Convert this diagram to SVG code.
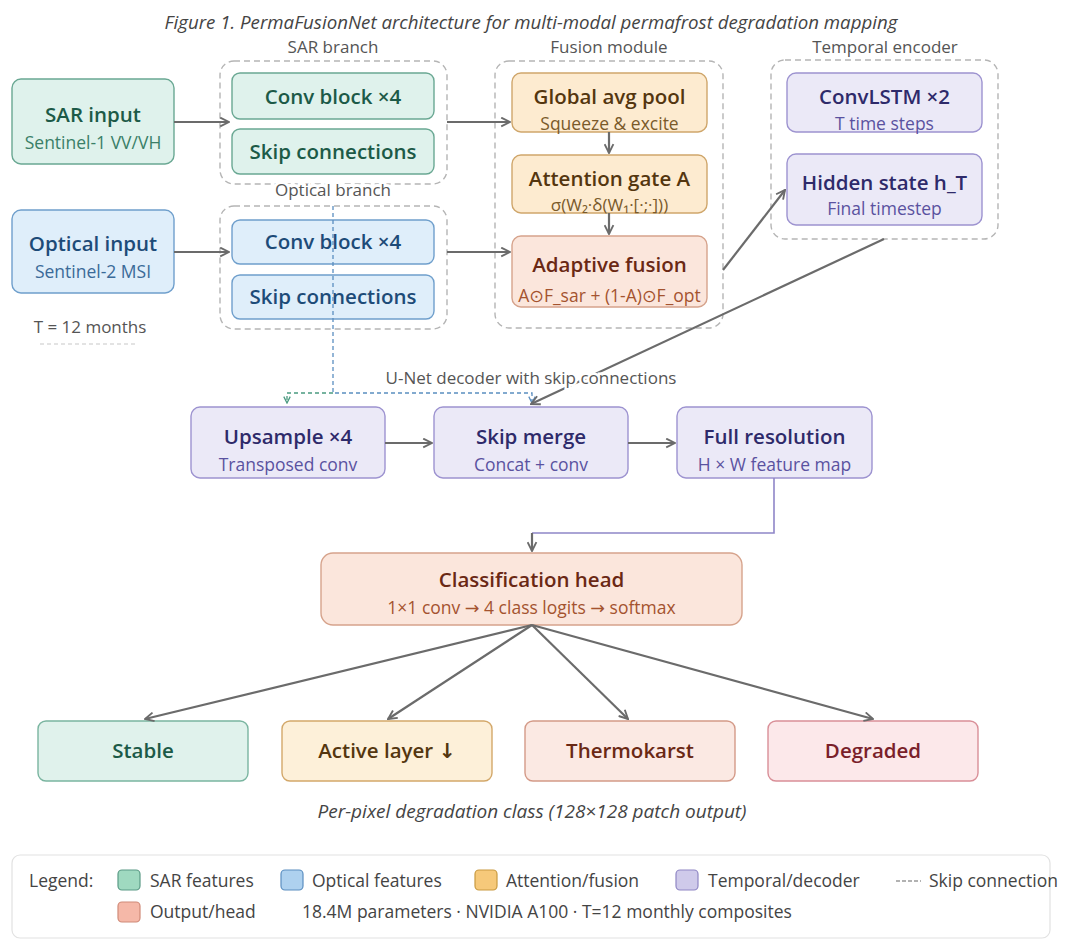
<svg xmlns="http://www.w3.org/2000/svg" width="1076" height="941" viewBox="0 0 1076 941">
<defs>
<style>
text{font-family:"Open Sans","Noto Sans","DejaVu Sans",sans-serif;text-anchor:middle}
.cap{font-size:17px;fill:#555}
.title{font-size:18.7px;font-style:italic;fill:#444}
.t{font-size:20.5px;font-weight:600}
.s{font-size:17.5px}
.cont{fill:none;stroke:#b5b5b5;stroke-width:1.4;stroke-dasharray:6 4}
.edge{fill:none;stroke:#6b6b6b;stroke-width:2.2}
.sar rect{fill:#dff2ec;stroke:#6aa893;stroke-width:1.4}
.sar .t{fill:#1c5a47}.sar .s{fill:#3a7f68}
.opt rect{fill:#dfeefa;stroke:#6f9fcc;stroke-width:1.4}
.opt .t{fill:#1d4b78}.opt .s{fill:#3a6a98}
.fus rect{fill:#fdebd0;stroke:#cfa66b;stroke-width:1.4}
.fus .t{fill:#54360f}.fus .s{fill:#7a5a2a}
.ada rect{fill:#fbe6dc;stroke:#d6a38c;stroke-width:1.4}
.ada .t{fill:#6a2814}.ada .s{fill:#a4532f}
.tmp rect{fill:#ebe9f7;stroke:#9d93d0;stroke-width:1.4}
.tmp .t{fill:#2e2a6a}.tmp .s{fill:#5a52a0}
.out1 rect{fill:#e0f2ec;stroke:#7ab5a0;stroke-width:1.4}.out1 .t{fill:#1c5a47}
.out2 rect{fill:#fdf0d9;stroke:#d3a86a;stroke-width:1.4}.out2 .t{fill:#54360f}
.out3 rect{fill:#fbe9e3;stroke:#d49a88;stroke-width:1.4}.out3 .t{fill:#6a2814}
.out4 rect{fill:#fce8ea;stroke:#d98f98;stroke-width:1.4}.out4 .t{fill:#7a1f2a}
.leg{font-size:17.5px;fill:#444;text-anchor:start}
</style>
<marker id="ah" viewBox="0 0 10 10" refX="9" refY="5" markerWidth="11" markerHeight="11" markerUnits="userSpaceOnUse" orient="auto">
<path d="M1,1 L9,5 L1,9" fill="none" stroke="#6b6b6b" stroke-width="1.7"/>
</marker>
<marker id="ahG" viewBox="0 0 10 10" refX="9" refY="5" markerWidth="8" markerHeight="8" markerUnits="userSpaceOnUse" orient="auto">
<path d="M1,1 L9,5 L1,9" fill="none" stroke="#4a9a80" stroke-width="1.6"/>
</marker>
<marker id="ahB" viewBox="0 0 10 10" refX="9" refY="5" markerWidth="8" markerHeight="8" markerUnits="userSpaceOnUse" orient="auto">
<path d="M1,1 L9,5 L1,9" fill="none" stroke="#5a8ec0" stroke-width="1.6"/>
</marker>
</defs>
<rect width="1076" height="941" fill="#fff"/>

<text class="title" x="531" y="29">Figure 1. PermaFusionNet architecture for multi-modal permafrost degradation mapping</text>

<g id="containers">
<rect class="cont" x="220" y="61" width="227" height="123" rx="14"/>
<rect class="cont" x="220" y="206" width="227" height="123" rx="14"/>
<rect class="cont" x="495" y="61" width="228" height="267" rx="14"/>
<rect class="cont" x="771" y="60" width="227" height="179" rx="14"/>
<text class="cap" x="333" y="53">SAR branch</text>
<text class="cap" x="609" y="53">Fusion module</text>
<text class="cap" x="885" y="53">Temporal encoder</text>
</g>

<g id="sar-input" class="sar">
<rect x="12" y="79" width="162" height="85" rx="9"/>
<text class="t" x="93" y="122">SAR input</text>
<text class="s" x="93" y="149">Sentinel-1 VV/VH</text>
</g>
<g id="sar-conv" class="sar">
<rect x="232" y="73" width="202" height="46" rx="8"/>
<text class="t" x="333" y="104">Conv block ×4</text>
</g>
<g id="sar-skip" class="sar">
<rect x="232" y="129" width="202" height="45" rx="8"/>
<text class="t" x="333" y="159">Skip connections</text>
</g>

<g id="opt-input" class="opt">
<rect x="12" y="210" width="162" height="83" rx="9"/>
<text class="t" x="93" y="251">Optical input</text>
<text class="s" x="93" y="278">Sentinel-2 MSI</text>
</g>
<g id="opt-conv" class="opt">
<rect x="232" y="220" width="202" height="44" rx="8"/>
<text class="t" x="333" y="249">Conv block ×4</text>
</g>
<g id="opt-skip" class="opt">
<rect x="232" y="275" width="202" height="44" rx="8"/>
<text class="t" x="333" y="304">Skip connections</text>
</g>

<g id="t-months">
<text class="cap" x="90" y="333">T = 12 months</text>
<line x1="40" y1="344" x2="138" y2="344" stroke="#c8c8c8" stroke-width="1.2" stroke-dasharray="4 3"/>
</g>

<g id="gap" class="fus">
<rect x="512" y="73" width="195" height="59" rx="9"/>
<text class="t" x="609.5" y="104">Global avg pool</text>
<text class="s" x="609.5" y="130">Squeeze &amp; excite</text>
</g>
<g id="attn" class="fus">
<rect x="512" y="155" width="195" height="58" rx="9"/>
<text class="t" x="609.5" y="186">Attention gate A</text>
<text class="s" x="609.5" y="211" style="font-size:17px">σ(W₂·δ(W₁·[·;·]))</text>
</g>
<g id="adaptive" class="ada">
<rect x="512" y="236" width="195" height="71" rx="9"/>
<text class="t" x="609.5" y="272">Adaptive fusion</text>
<text class="s" x="609.5" y="302">A⊙F_sar + (1-A)⊙F_opt</text>
</g>

<g id="convlstm" class="tmp">
<rect x="787" y="73" width="195" height="59" rx="9"/>
<text class="t" x="884.5" y="104">ConvLSTM ×2</text>
<text class="s" x="884.5" y="130">T time steps</text>
</g>
<g id="hidden" class="tmp">
<rect x="787" y="154" width="195" height="71" rx="9"/>
<text class="t" x="884.5" y="190">Hidden state h_T</text>
<text class="s" x="884.5" y="215">Final timestep</text>
</g>

<g id="upsample" class="tmp">
<rect x="191" y="407" width="194" height="71" rx="9"/>
<text class="t" x="288" y="444">Upsample ×4</text>
<text class="s" x="288" y="471">Transposed conv</text>
</g>
<g id="skipmerge" class="tmp">
<rect x="434" y="407" width="194" height="71" rx="9"/>
<text class="t" x="531" y="444">Skip merge</text>
<text class="s" x="531" y="471">Concat + conv</text>
</g>
<g id="fullres" class="tmp">
<rect x="677" y="407" width="195" height="71" rx="9"/>
<text class="t" x="774.5" y="444">Full resolution</text>
<text class="s" x="774.5" y="471">H × W feature map</text>
</g>

<g id="head" class="ada">
<rect x="321" y="553" width="421" height="72" rx="12"/>
<text class="t" x="531.5" y="587">Classification head</text>
<text class="s" x="531.5" y="614">1×1 conv → 4 class logits → softmax</text>
</g>

<g id="stable" class="out1">
<rect x="38" y="721" width="210" height="60" rx="8"/>
<text class="t" x="143" y="758">Stable</text>
</g>
<g id="active" class="out2">
<rect x="282" y="721" width="210" height="60" rx="8"/>
<text class="t" x="387" y="758">Active layer ↓</text>
</g>
<g id="thermokarst" class="out3">
<rect x="525" y="721" width="210" height="60" rx="8"/>
<text class="t" x="630" y="758">Thermokarst</text>
</g>
<g id="degraded" class="out4">
<rect x="768" y="721" width="210" height="60" rx="8"/>
<text class="t" x="873" y="758">Degraded</text>
</g>

<g id="connectors">
<path d="M333,393 H287 V403" fill="none" stroke="#4a9a80" stroke-width="1.3" stroke-dasharray="4 3" marker-end="url(#ahG)"/>
<path d="M333,206 V393 H532 V403" fill="none" stroke="#5a8ec0" stroke-width="1.3" stroke-dasharray="4 3" marker-end="url(#ahB)"/>
<line class="edge" x1="174" y1="122" x2="229" y2="122" marker-end="url(#ah)"/>
<line class="edge" x1="174" y1="252" x2="229" y2="252" marker-end="url(#ah)"/>
<line class="edge" x1="447" y1="122" x2="510" y2="122" marker-end="url(#ah)"/>
<line class="edge" x1="447" y1="252" x2="510" y2="252" marker-end="url(#ah)"/>
<line class="edge" x1="609" y1="132" x2="609" y2="153" marker-end="url(#ah)"/>
<line class="edge" x1="609" y1="213" x2="609" y2="234" marker-end="url(#ah)"/>
<line class="edge" x1="723" y1="270" x2="785" y2="190" marker-end="url(#ah)"/>
<line class="edge" x1="884" y1="239" x2="531" y2="404" marker-end="url(#ah)"/>
<line class="edge" x1="385" y1="443" x2="432" y2="443" marker-end="url(#ah)"/>
<line class="edge" x1="628" y1="443" x2="675" y2="443" marker-end="url(#ah)"/>
<path d="M774,478 V533 H532" fill="none" stroke="#8f86c8" stroke-width="1.6"/>
<line class="edge" x1="532" y1="533" x2="532" y2="551" marker-end="url(#ah)"/>
<line class="edge" x1="532" y1="625" x2="145" y2="719" marker-end="url(#ah)"/>
<line class="edge" x1="532" y1="625" x2="388" y2="719" marker-end="url(#ah)"/>
<line class="edge" x1="532" y1="625" x2="628" y2="719" marker-end="url(#ah)"/>
<line class="edge" x1="532" y1="625" x2="873" y2="719" marker-end="url(#ah)"/>
</g>

<text class="cap" x="333" y="196" stroke="#fff" stroke-width="6" paint-order="stroke">Optical branch</text>
<text class="cap" x="531" y="384" stroke="#fff" stroke-width="5" paint-order="stroke">U-Net decoder with skip connections</text>

<text class="title" x="532" y="818" style="font-size:19px">Per-pixel degradation class (128×128 patch output)</text>

<g id="legend">
<rect x="12" y="855" width="1038" height="83" rx="8" fill="#fff" stroke="#e2e2e2" stroke-width="1.2"/>
<text class="leg" x="29" y="887">Legend:</text>
<rect x="118" y="870" width="22" height="20" rx="4" fill="#9fd9c0" stroke="#5a9a85" stroke-width="1.2"/>
<text class="leg" x="150" y="887">SAR features</text>
<rect x="281" y="870" width="22" height="20" rx="4" fill="#aed1ef" stroke="#5a8ec0" stroke-width="1.2"/>
<text class="leg" x="312" y="887">Optical features</text>
<rect x="475" y="870" width="22" height="20" rx="4" fill="#f6c97a" stroke="#c99a40" stroke-width="1.2"/>
<text class="leg" x="506" y="887">Attention/fusion</text>
<rect x="676" y="870" width="22" height="20" rx="4" fill="#cfcaea" stroke="#8f86c4" stroke-width="1.2"/>
<text class="leg" x="708" y="887">Temporal/decoder</text>
<line x1="896" y1="881" x2="921" y2="881" stroke="#999" stroke-width="1.3" stroke-dasharray="4 2"/>
<text class="leg" x="929" y="887">Skip connection</text>
<rect x="118" y="902" width="22" height="20" rx="4" fill="#f5b8a8" stroke="#d08a78" stroke-width="1.2"/>
<text class="leg" x="150" y="918">Output/head</text>
<text class="leg" x="302" y="918">18.4M parameters · NVIDIA A100 · T=12 monthly composites</text>
</g>
</svg>
